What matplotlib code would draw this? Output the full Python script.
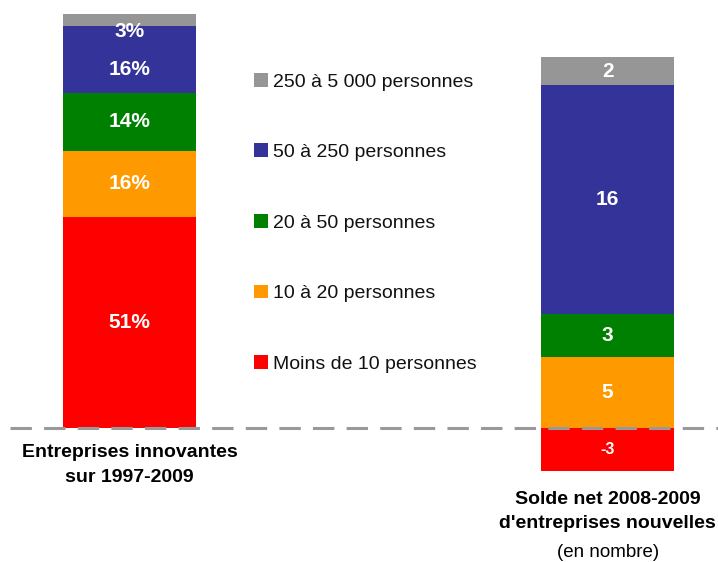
import matplotlib
matplotlib.use("Agg")
import matplotlib.pyplot as plt
from matplotlib.patches import Patch

plt.rcParams['font.family'] = ['Liberation Sans', 'DejaVu Sans']

# data
categories = ["Moins de 10 personnes", "10 à 20 personnes", "20 à 50 personnes",
              "50 à 250 personnes", "250 à 5 000 personnes"]
colors = ["#FF0000", "#FF9900", "#008000", "#333399", "#969696"]
innovantes_pct = [51, 16, 14, 16, 3]        # left bar, %
solde_net = [-3, 5, 3, 16, 2]               # right bar, number of firms

bar_labels = ["Entreprises innovantes\nsur 1997-2009",
              "Solde net 2008-2009\nd'entreprises nouvelles"]
sub_label = "(en nombre)"

fig = plt.figure(figsize=(7.18, 5.62), dpi=100)
ax = fig.add_axes([0, 0, 1, 1])
ax2 = ax.twinx()

width = 0.278
ax.set_xlim(-0.271, 1.231)
ax.set_ylim(-32.37, 103.38)
ax2.set_ylim(-9.39, 29.99)

# left stacked bar (percentages)
bottom = 0
for val, col in zip(innovantes_pct, colors):
    ax.bar(0, val, width, bottom=bottom, color=col, edgecolor='none')
    bottom += val

# label offsets (points) for the crowded top segments
left_offsets = [0, 0, 0, -7, -8]
bottom = 0
for val, off in zip(innovantes_pct, left_offsets):
    ax.annotate(f"{val}%", (0, bottom + val / 2), xytext=(0, off),
                textcoords='offset points', ha='center', va='center',
                color='white', fontsize=15, fontweight='bold')
    bottom += val

# right stacked bar (counts, negatives below zero)
pos_bottom, neg_bottom = 0, 0
for val, col in zip(solde_net, colors):
    if val >= 0:
        ax2.bar(1, val, width, bottom=pos_bottom, color=col, edgecolor='none')
        ax2.text(1, pos_bottom + val / 2, str(val), ha='center', va='center',
                 color='white', fontsize=15, fontweight='bold')
        pos_bottom += val
    else:
        ax2.bar(1, val, width, bottom=neg_bottom, color=col, edgecolor='none')
        ax2.text(1, neg_bottom + val / 2, str(val), ha='center', va='center',
                 color='white', fontsize=11.5, fontweight='bold')
        neg_bottom += val

# zero line
ax2.axhline(0, xmin=10 / 718, xmax=1, color='#999999', lw=2.2,
            dashes=(7, 4), zorder=5)

# category labels
ax.text(0, -8.85, bar_labels[0], ha='center', va='center', fontsize=14,
        fontweight='bold', linespacing=1.6)
ax2.text(1, -5.85, bar_labels[1], ha='center', va='center', fontsize=14,
         fontweight='bold', linespacing=1.6)
ax2.text(1, -8.7, sub_label, ha='center', va='center', fontsize=13.5)

# legend (top item = largest firms)
handles = [Patch(facecolor=c, edgecolor='none') for c in colors][::-1]
fig.legend(handles, categories[::-1], loc='upper left',
           bbox_to_anchor=(254 / 718, 1 - 73 / 562), frameon=False,
           fontsize=14, handlelength=0.7, handleheight=0.7,
           handletextpad=0.3, labelspacing=2.72, borderpad=0,
           borderaxespad=0, labelcolor='#111111')

for a in (ax, ax2):
    a.axis('off')

fig.savefig("out.png", dpi=100)
